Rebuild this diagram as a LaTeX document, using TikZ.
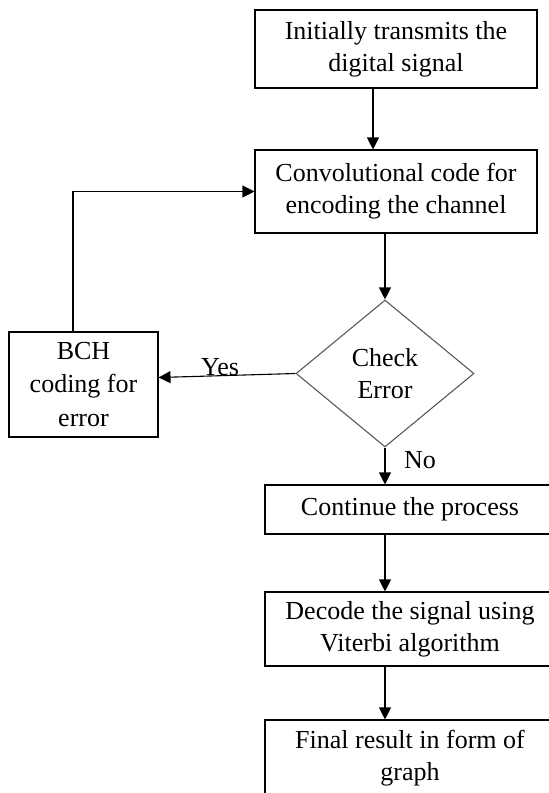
\documentclass[tikz,border=0pt]{standalone}
\usepackage{fontspec}
\setmainfont{Liberation Serif}
\usetikzlibrary{shapes.geometric,arrows.meta}

\tikzset{
  box/.style={draw, line width=1.1pt, inner sep=0pt, align=center,
    font=\fontsize{26}{32}\selectfont},
  decision/.style={diamond, draw=black!65, line width=1.1pt, inner sep=0pt,
    align=center, font=\fontsize{26}{32}\selectfont},
  arr/.style={-{Triangle[length=12pt,width=12pt]}, line width=1.1pt},
  lbl/.style={font=\fontsize{26}{32}\selectfont, inner sep=0pt}
}

\begin{document}
\begin{tikzpicture}[x=1pt,y=-1pt]

\useasboundingbox (0,0) rectangle (549,793);
\clip (0,0) rectangle (549,793);

% steps of the flow
\node[box, minimum width=282pt, minimum height=78pt] (init) at (396,49) {Initially transmits the\\digital signal};
\node[box, minimum width=282pt, minimum height=83pt] (conv) at (396,191.5) {Convolutional code for\\encoding the channel};
\node[decision, minimum width=178pt, minimum height=147pt] (check) at (385,373.5) {Check\\Error};
\node[box, minimum width=149pt, minimum height=105pt, font=\fontsize{26}{33.5}\selectfont] (bch) at (83.5,384.5) {BCH\\coding for\\error};
\node[box, minimum width=290pt, minimum height=49pt] (cont) at (410,509.5) {Continue the process};
\node[box, minimum width=290pt, minimum height=74pt] (decode) at (410,629) {Decode the signal using\\Viterbi algorithm};
\node[box, minimum width=290pt, minimum height=76pt] (final) at (410,758) {Final result in form of\\graph};

% branch labels
\node[lbl] (yes) at (220,367) {Yes};
\node[lbl] (no) at (420,460) {No};

% helper points for the vertical runs
\coordinate (c1) at (373,0);
\coordinate (fb) at (73,0);

\draw[arr] (init.south -| c1) -- (conv.north -| c1);
\draw[arr] (conv.south -| check.north) -- (check.north);
\draw[arr] (check.west) -- ([yshift=7pt]bch.east);
\draw[arr] (bch.north -| fb) |- (conv.west);
\draw[arr] (check.south) -- (cont.north -| check.south);
\draw[arr] (cont.south -| check.south) -- (decode.north -| check.south);
\draw[arr] (decode.south -| check.south) -- (final.north -| check.south);

\end{tikzpicture}
\end{document}
